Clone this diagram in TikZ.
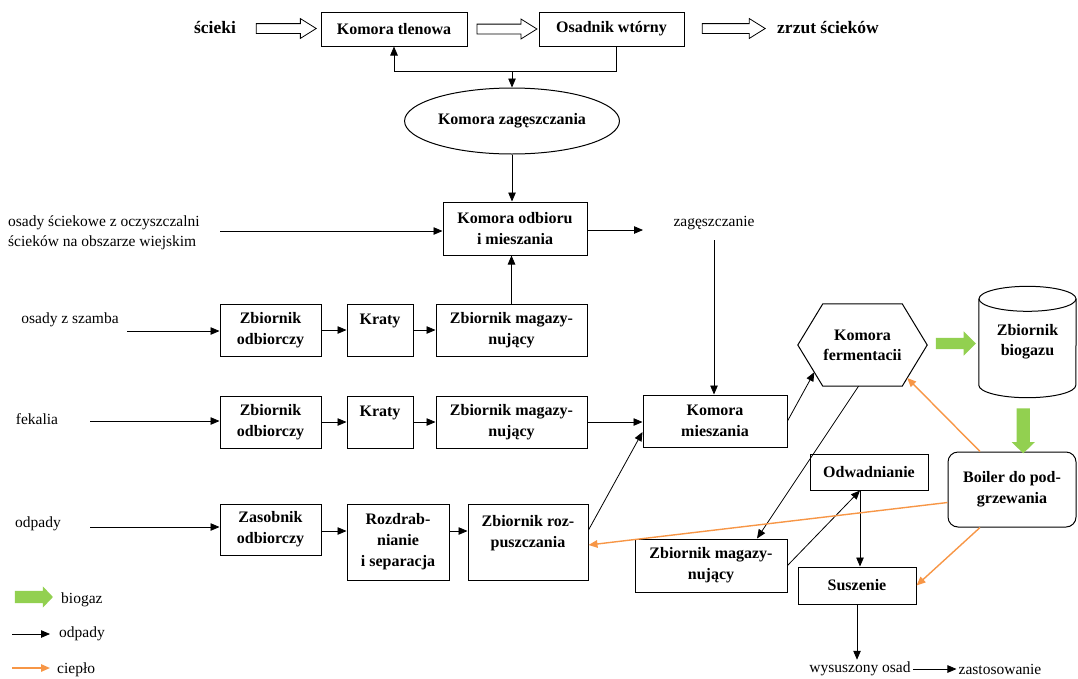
\documentclass[tikz,border=0pt]{standalone}
\usepackage{fontspec}
\setmainfont{Liberation Serif}
\usetikzlibrary{arrows.meta,calc,shapes.geometric,shapes.arrows}
\definecolor{bgreen}{HTML}{92D050}
\definecolor{heat}{HTML}{F79646}
\begin{document}
\begin{tikzpicture}[x=1pt,y=-1pt,
  every node/.style={font=\fontsize{15.5}{20}\selectfont, inner sep=2pt},
  box/.style={draw, line width=1pt, align=center, font=\bfseries\fontsize{16}{21}\selectfont, inner sep=0pt},
  bigtxt/.style={font=\bfseries\fontsize{17.5}{21}\selectfont},
  arr/.style={line width=0.8pt, -{Triangle[length=9pt,width=7.5pt]}},
  harr/.style={draw=heat, line width=1.4pt, -{Triangle[length=9pt,width=7.5pt]}, color=heat},
  hollow/.style={single arrow, draw, line width=0.8pt, minimum height=60pt, inner sep=4.5pt,
     single arrow head extend=5pt, single arrow tip angle=64, fill=white},
  garrow/.style={single arrow, fill=bgreen, draw=none},
]
\useasboundingbox (0,0) rectangle (1078,678);

% ---- top row
\node[bigtxt] (scieki) at (215,28) {ścieki};
\node[box, minimum width=146pt, minimum height=34pt] (tlen) at (394,29) {Komora tlenowa};
\node[box, minimum width=145pt, minimum height=34pt] (osad) at (611.5,29) {Osadnik wtórny};
\node[bigtxt] (zrzut) at (828,28) {zrzut ścieków};
\node[hollow] (ha1) at ($(scieki.east)!0.5!(tlen.west)+(3,0)$) {};
\node[hollow] (ha2) at ($(tlen.east)!0.5!(osad.west)$) {};
\node[hollow, minimum height=63pt] (ha3) at ($(osad.east)!0.5!(zrzut.west)$) {};

% ---- thickening
\node[draw, ellipse, line width=1pt, minimum width=212pt, minimum height=66pt,
      font=\bfseries\fontsize{16}{21}\selectfont] (zag) at (512,121) {Komora zagęszczania};
\coordinate (fb) at (0,71);
\coordinate (os) at ([xshift=5pt]osad.south);
\draw[arr] (os) -- (os |- fb) -| (tlen.south);
\draw[arr] (zag.north |- fb) -- (zag.north);

\node[box, minimum width=144pt, minimum height=53pt] (odb) at (515,228.5) {Komora odbioru\\i mieszania};
\draw[arr] (zag.south) -- (zag.south |- odb.north);

\node[align=left, anchor=west] (src1) at (6,233) {osady ściekowe z oczyszczalni\\ścieków na obszarze wiejskim};
\coordinate (c1) at (220,231);
\draw[arr] (c1) -- (c1 -| odb.west);

\node (zagtxt) at (714,223) {zagęszczanie};
\coordinate (c5) at (643,230);
\draw[arr] (odb.east |- c5) -- (c5);

% ---- row 1
\node (szamba) at (70,320) {osady z szamba};
\node[box, minimum width=101pt, minimum height=52pt] (r1a) at (270.5,330) {Zbiornik\\odbiorczy};
\node[box, minimum width=66pt, minimum height=52pt] (r1b) at (380,330) {Kraty\\\mbox{}};
\node[box, minimum width=151pt, minimum height=52pt] (r1c) at (511.5,330) {Zbiornik magazy-\\nujący};
\coordinate (c2) at (127,331);
\draw[arr] (c2) -- (c2 -| r1a.west);
\draw[arr] (r1a) -- (r1b);
\draw[arr] (r1b) -- (r1c);
\draw[arr] (r1c.north) -- (r1c.north |- odb.south);

% ---- row 2
\node (fek) at (37,419) {fekalia};
\node[box, minimum width=101pt, minimum height=52pt] (r2a) at (270.5,422) {Zbiornik\\odbiorczy};
\node[box, minimum width=66pt, minimum height=52pt] (r2b) at (380,422) {Kraty\\\mbox{}};
\node[box, minimum width=151pt, minimum height=52pt] (r2c) at (511.5,422) {Zbiornik magazy-\\nujący};
\node[box, minimum width=144pt, minimum height=52pt] (mies) at (715,421) {Komora\\mieszania};
\coordinate (c3) at (90,421);
\draw[arr] (c3) -- (c3 -| r2a.west);
\draw[arr] (r2a) -- (r2b);
\draw[arr] (r2b) -- (r2c);
\draw[arr] (r2c.east) -- (r2c.east -| mies.west);
\coordinate (zt) at ([yshift=-8pt]zagtxt.south);
\draw[arr] (zt) -- (zt |- mies.north);

% ---- row 3
\node (odp) at (38,524) {odpady};
\node[box, minimum width=101pt, minimum height=51pt] (r3a) at (270.5,529.5) {Zasobnik\\odbiorczy};
\node[box, minimum width=102pt, minimum height=76pt] (r3b) at (398,542) {Rozdrab-\\nianie\\i separacja};
\node[box, minimum width=120pt, minimum height=76pt] (r3c) at (528,542) {Zbiornik roz-\\puszczania\\\mbox{}};
\coordinate (c4) at (90,527);
\draw[arr] (c4) -- (c4 -| r3a.west);
\coordinate (c6) at (0,531);
\draw[arr] (r3a.east |- c6) -- (r3b.west |- c6);
\draw[arr] (r3b.east |- c6) -- (r3c.west |- c6);
\draw[arr] ([yshift=12pt]r3c.east) -- ([yshift=-11pt]mies.west);

% ---- fermentation
\node[minimum width=129pt, minimum height=82pt, inner sep=0pt, align=center,
      font=\bfseries\fontsize{16}{20}\selectfont] (ferm) at (862.5,345) {Komora\\fermentacii};
\coordinate (hw) at (ferm.west);
\coordinate (he) at (ferm.east);
\coordinate (hnw) at ($(ferm.north west)+(25,0)$);
\coordinate (hne) at ($(ferm.north east)+(-25,0)$);
\coordinate (hsw) at ($(ferm.south west)+(25,0)$);
\coordinate (hse) at ($(ferm.south east)+(-25,0)$);
\draw[line width=1pt] (hw) -- (hnw) -- (hne) -- (he) -- (hse) -- (hsw) -- cycle;
\draw[arr] (mies.east) -- ($(hw)!0.66!(hsw)$);

% ---- biogas tank
\node[minimum width=97pt, minimum height=111pt, inner sep=0pt, align=center,
      font=\bfseries\fontsize{16}{20}\selectfont] (bio) at (1027.5,342) {Zbiornik\\biogazu};
\draw[line width=1pt] ($(bio.north)+(0,12.5)$) ellipse [x radius=48.5pt, y radius=12.5pt];
\draw[line width=1pt] ($(bio.north west)+(0,12.5)$) -- ($(bio.south west)+(0,-12.5)$)
   arc[start angle=180, end angle=360, x radius=48.5pt, y radius=12.5pt]
   -- ($(bio.north east)+(0,12.5)$);

% ---- boiler
\node[box, rounded corners=10pt, minimum width=128pt, minimum height=75pt] (boil) at (1012,489.5) {Boiler do pod-\\grzewania};

\node[garrow, minimum height=40pt, inner sep=5.5pt, single arrow head extend=6.5pt, single arrow tip angle=90]
   (g1) at ($(ferm.east)!0.5!(bio.west)$) {};
\node[garrow, rotate=-90, minimum height=45pt, inner sep=6.5pt, single arrow head extend=5pt, single arrow tip angle=92]
   (g2) at ($(bio.south)!0.5!(boil.north)+(3.5,3)$) {};

% ---- lower right
\node[box, minimum width=118pt, minimum height=36pt] (odw) at (869,472) {Odwadnianie};
\node[box, minimum width=152pt, minimum height=53pt] (mag) at (711,565.5) {Zbiornik magazy-\\nujący};
\node[box, minimum width=118pt, minimum height=37pt] (susz) at (857,585.5) {Suszenie};
\draw[arr] ($(hsw)!0.45!(hse)$) -- ([xshift=46pt]mag.north);
\coordinate (od) at ([xshift=-9pt]odw.south);
\draw[arr] (mag.east) -- (od);
\draw[arr] (od) -- (od |- susz.north);
\node (wys) at (860,669) {wysuszony osad};
\node (zast) at (1000,669) {zastosowanie};
\draw[arr] (susz.south) -- (susz.south |- wys.north);
\draw[arr] (wys.east) -- (zast.west);

% ---- heat
\draw[harr] ([xshift=-32pt]boil.north) -- ($(he)!0.8!(hse)$);
\draw[harr] ([yshift=-13pt]boil.west) -- ([yshift=-3pt]r3c.east);
\draw[harr] ([xshift=-32pt]boil.south) -- (susz.east);

% ---- legend
\node[garrow, minimum height=38pt, inner sep=6pt, single arrow head extend=4.5pt, single arrow tip angle=93]
   (lg) at (31,597) {};
\node[anchor=west] (lgt) at (59,600) {biogaz};
\coordinate (l1a) at (12,634);
\coordinate (l1b) at (50,634);
\draw[arr] (l1a) -- (l1b);
\node[anchor=west] (lot) at (57,634) {odpady};
\coordinate (l2a) at (12,668);
\coordinate (l2b) at (50,668);
\draw[harr] (l2a) -- (l2b);
\node[anchor=west] (lct) at (55,670) {ciepło};
\end{tikzpicture}
\end{document}
